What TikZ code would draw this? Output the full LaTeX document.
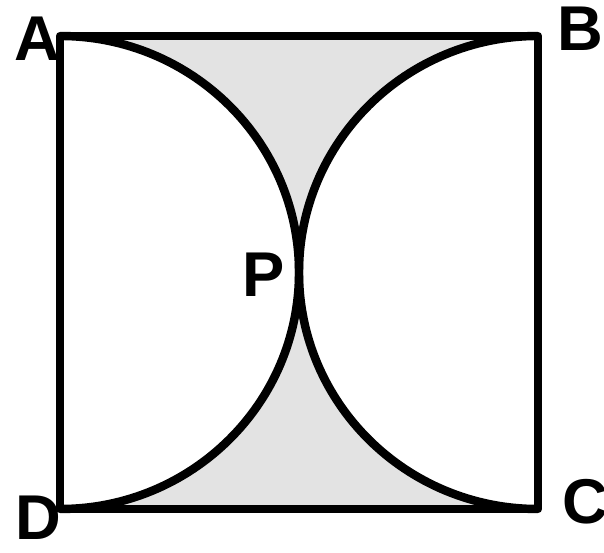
\documentclass[tikz,border=0pt]{standalone}
\usepackage{fontspec}
\setmainfont{Liberation Sans}
\begin{document}
\begin{tikzpicture}[x=0.01cm,y=0.01cm,line join=round,
  edge/.style={line width=2.4pt},
  shadearea/.style={fill=gray!22},
  lbl/.style={font=\fontsize{18}{21}\selectfont\bfseries,inner sep=0pt},
  half/.style={x radius=239,y radius=236.5}]
\useasboundingbox (0,0) rectangle (604,552);
% square corners and touching point
\coordinate (A) at (60,516);
\coordinate (B) at (538,516);
\coordinate (C) at (538,43);
\coordinate (D) at (60,43);
\coordinate (P) at (299,279.5);
% shaded parts
\fill[shadearea] (A) -- (B) arc[start angle=90,end angle=180,half]
  arc[start angle=0,end angle=90,half] -- cycle;
\fill[shadearea] (D) -- (C) arc[start angle=270,end angle=180,half]
  arc[start angle=0,end angle=-90,half] -- cycle;
% square and semicircles
\draw[edge] (A) -- (B) -- (C) -- (D) -- cycle;
\draw[edge] (A) arc[start angle=90,end angle=-90,half];
\draw[edge] (B) arc[start angle=90,end angle=270,half];
% labels
\node[lbl] (la) at (37,513) {A};
\node[lbl] (lb) at (580,523) {B};
\node[lbl] (lc) at (585,50) {C};
\node[lbl] (ld) at (38,34) {D};
\node[lbl] (lp) at (264,277) {P};
\end{tikzpicture}
\end{document}
